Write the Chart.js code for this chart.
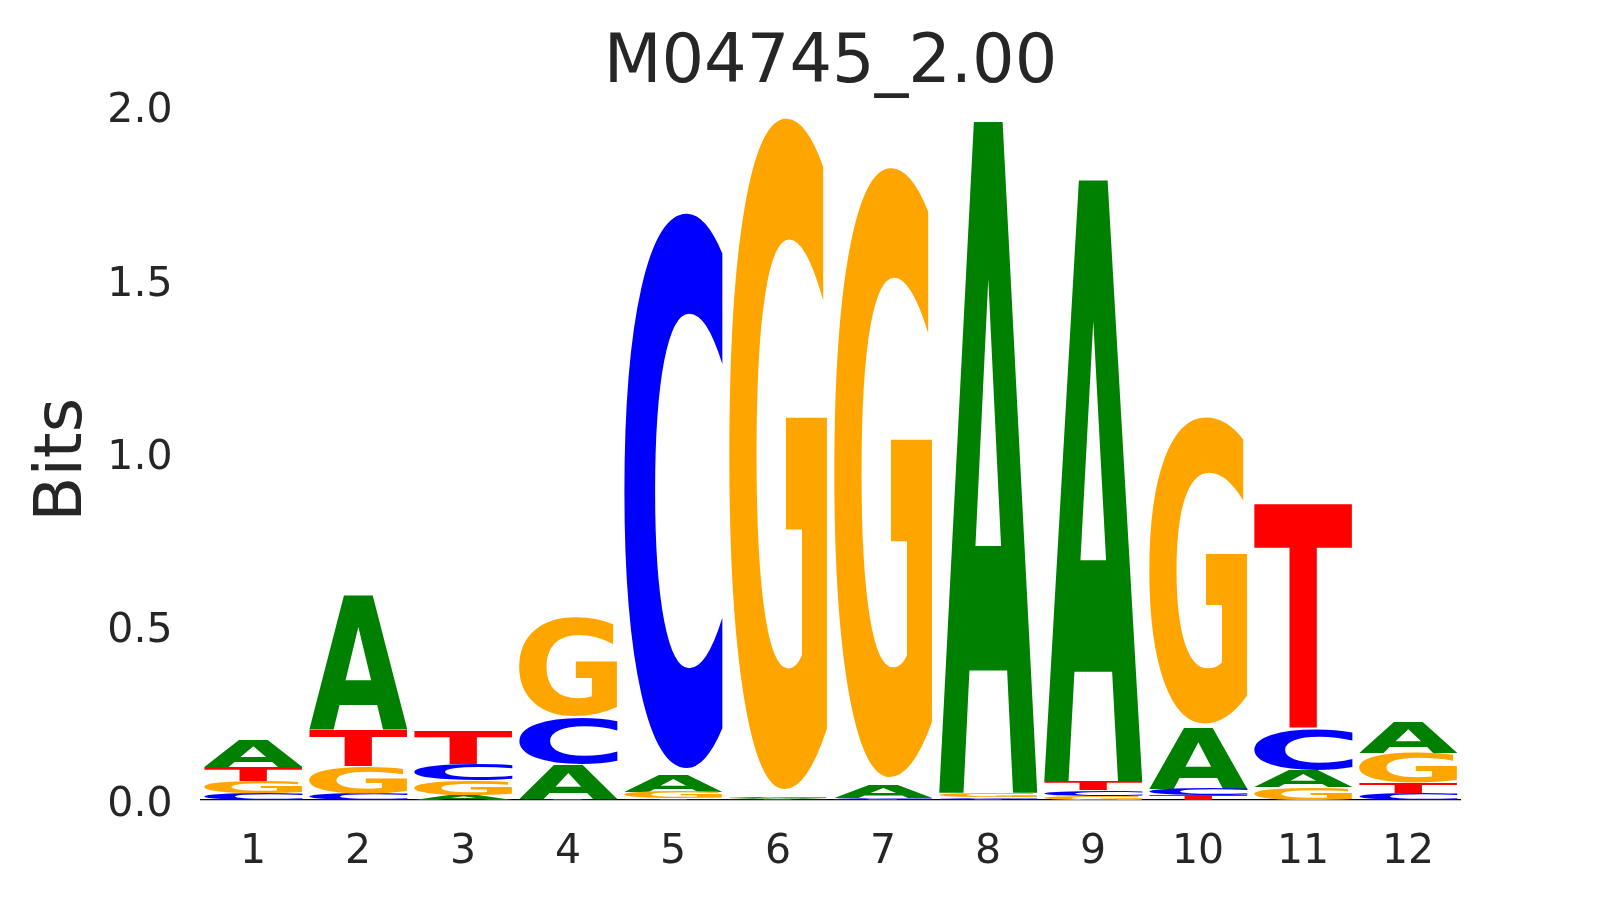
<!DOCTYPE html>
<html>
<head>
<meta charset="utf-8">
<script src="https://cdn.jsdelivr.net/npm/chart.js@4.4.1/dist/chart.umd.min.js"></script>
<style>
  html, body { margin: 0; padding: 0; background: #fff; }
  #wrap { width: 1620px; height: 900px; position: relative; }
</style>
</head>
<body>
<div id="wrap"><canvas id="logo" width="1620" height="900"></canvas></div>
<script>
// positions along the motif
const positions = ['1', '2', '3', '4', '5', '6', '7', '8', '9', '10', '11', '12'];

// information (bits) per base at each position
const bitsA = [0.079, 0.385, 0.014, 0.099, 0.050, 0.003, 0.038, 1.937, 1.735, 0.177, 0.050, 0.088];
const bitsC = [0.019, 0.019, 0.046, 0.137, 1.641, 0.003, 0.004, 0.005, 0.016, 0.019, 0.118, 0.020];
const bitsG = [0.036, 0.079, 0.043, 0.293, 0.019, 1.985, 1.803, 0.012, 0.012, 0.906, 0.037, 0.086];
const bitsT = [0.040, 0.106, 0.094, 0.003, 0.004, 0.002, 0.003, 0.004, 0.026, 0.014, 0.649, 0.029];

const yTicks = [0.0, 0.5, 1.0, 1.5, 2.0];

const bases = ['A', 'C', 'G', 'T'];
const baseColors = { A: '#008000', C: '#0000ff', G: '#ffa500', T: '#ff0000' };
const bitsByBase = { A: bitsA, C: bitsC, G: bitsG, T: bitsT };

// stack letters in each column, smallest at the bottom
function floatingRanges(base) {
    return positions.map((p, i) => {
        const col = bases.map(b => ({ b: b, v: bitsByBase[b][i] }));
        col.sort((u, w) => u.v - w.v);
        let start = 0;
        for (const item of col) {
            if (item.b === base) return [start, start + item.v];
            start += item.v;
        }
    });
}

const textColor = '#262626';
const glyphFont = 'bold 200px "DejaVu Sans"';
const glyphMetrics = {};

function measureGlyph(ctx, ch) {
    if (glyphMetrics[ch]) return glyphMetrics[ch];
    ctx.save();
    ctx.font = glyphFont;
    const m = ctx.measureText(ch);
    ctx.restore();
    glyphMetrics[ch] = {
        left: m.actualBoundingBoxLeft,
        w: m.actualBoundingBoxLeft + m.actualBoundingBoxRight,
        asc: m.actualBoundingBoxAscent,
        h: m.actualBoundingBoxAscent + m.actualBoundingBoxDescent
    };
    return glyphMetrics[ch];
}

// draws each bar as a stretched letter
const letterPlugin = {
    id: 'letters',
    afterDatasetsDraw(chart) {
        const ctx = chart.ctx;
        chart.data.datasets.forEach((ds, di) => {
            const meta = chart.getDatasetMeta(di);
            const ch = ds.label;
            const g = measureGlyph(ctx, ch);
            meta.data.forEach(bar => {
                const p = bar.getProps(['x', 'y', 'base', 'width'], true);
                let top = Math.min(p.y, p.base);
                let h = Math.abs(p.base - p.y);
                if (h < 0.3) return;
                // round letters do not quite reach their box
                if (ch === 'C' || ch === 'G') {
                    top += h * 0.0107;
                    h -= h * 0.0214;
                }
                const left = p.x - p.width / 2;
                ctx.save();
                ctx.translate(left, top);
                ctx.scale(p.width / g.w, h / g.h);
                ctx.font = glyphFont;
                ctx.fillStyle = baseColors[ch];
                ctx.textBaseline = 'alphabetic';
                ctx.textAlign = 'left';
                ctx.fillText(ch, g.left, g.asc);
                ctx.restore();
            });
        });
    }
};

new Chart(document.getElementById('logo'), {
    type: 'bar',
    data: {
        labels: positions,
        datasets: bases.map(b => ({
            label: b,
            data: floatingRanges(b),
            backgroundColor: 'rgba(0,0,0,0)',
            borderWidth: 0,
            grouped: false,
            barPercentage: 0.94,
            categoryPercentage: 1.0
        }))
    },
    options: {
        responsive: false,
        animation: false,
        devicePixelRatio: 1,
        layout: { padding: { left: 0, right: 159.5, top: 0, bottom: 0 } },
        plugins: {
            legend: { display: false },
            tooltip: { enabled: false },
            title: {
                display: true,
                fullSize: false,
                text: 'M04745_2.00',
                color: textColor,
                font: { family: '"DejaVu Sans"', size: 67, weight: 'normal' },
                padding: { top: 24.8, bottom: 1.3 }
            }
        },
        scales: {
            x: {
                z: 1,
                grid: { display: false, drawTicks: false },
                border: { display: true, color: '#000000', width: 1.2 },
                ticks: {
                    color: textColor,
                    padding: 28,
                    font: { family: '"DejaVu Sans"', size: 41 }
                },
                afterFit(scale) { scale.height = 100; }
            },
            y: {
                min: 0,
                max: 2.0,
                grid: { display: false, drawTicks: false },
                border: { display: false },
                afterBuildTicks(scale) { scale.ticks = yTicks.map(v => ({ value: v })); },
                ticks: {
                    color: textColor,
                    padding: 28,
                    font: { family: '"DejaVu Sans"', size: 41, lineHeight: '10px' },
                    // empty first line nudges the number a little below its tick
                    callback: v => ['', Number(v).toFixed(1)]
                },
                title: {
                    display: true,
                    text: 'Bits\u2009',
                    color: textColor,
                    font: { family: '"DejaVu Sans"', size: 66 },
                    padding: { top: 24, bottom: 0 }
                },
                afterFit(scale) { scale.width = 200.5; }
            }
        }
    },
    plugins: [letterPlugin]
});
</script>
</body>
</html>
